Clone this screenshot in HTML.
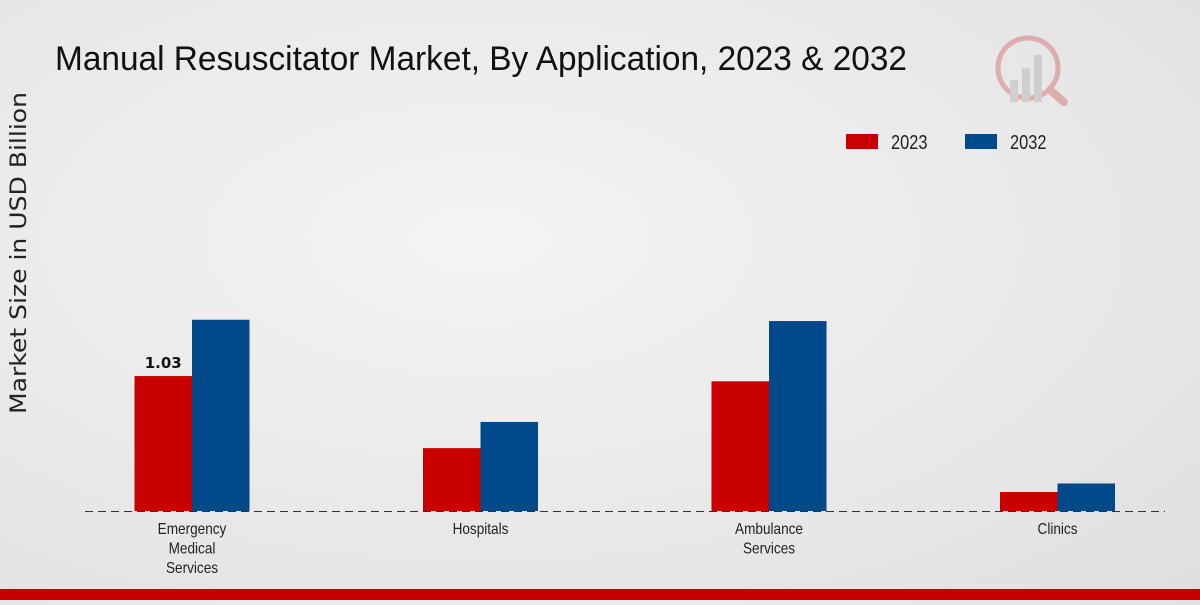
<!DOCTYPE html>
<html><head><meta charset="utf-8"><style>
html,body{margin:0;padding:0;}
body{width:1200px;height:600px;overflow:hidden;background:radial-gradient(ellipse at 40% 40%,#f4f4f4 0%,#e6e6e6 70%,#dedede 100%);font-family:"Liberation Sans",sans-serif;}
</style></head><body>
<svg width="1200" height="600" xmlns="http://www.w3.org/2000/svg">
<text x="55" y="70" font-size="34" fill="#111" textLength="852" lengthAdjust="spacingAndGlyphs" font-family="Liberation Sans, sans-serif">Manual Resuscitator Market, By Application, 2023 &amp; 2032</text>
<text transform="translate(26,253) rotate(-90)" text-anchor="middle" font-size="22" fill="#222" textLength="322" lengthAdjust="spacingAndGlyphs" font-family="DejaVu Sans, sans-serif">Market Size in USD Billion</text>
<g>
<rect x="846" y="134" width="32" height="15" fill="#c80000"/>
<text transform="translate(891,149) scale(0.82,1)" font-size="20" fill="#222">2023</text>
<rect x="965" y="134" width="32" height="15" fill="#004a8c"/>
<text transform="translate(1010,149) scale(0.82,1)" font-size="20" fill="#222">2032</text>
</g>
<g opacity="0.25">
<circle cx="1028" cy="68" r="30" fill="none" stroke="#c80000" stroke-width="5"/>
<rect x="1010" y="80" width="8" height="22" fill="#888"/><rect x="1022" y="68" width="8" height="34" fill="#888"/><rect x="1034" y="55" width="8" height="47" fill="#888"/>
<line x1="1050" y1="90" x2="1064" y2="102" stroke="#c80000" stroke-width="8" stroke-linecap="round"/>
</g>
<g id="bars"></g>
<line x1="85" y1="511.5" x2="1165" y2="511.5" stroke="#333" stroke-dasharray="8,5" stroke-width="1"/>
<g id="xlabels"></g>
<rect x="0" y="589" width="1200" height="11" fill="#c80000"/>
</svg>
<script>
const categories=[["Emergency","Medical","Services"],["Hospitals"],["Ambulance","Services"],["Clinics"]];
const values2023=[1.03,0.48,0.99,0.145];
const values2032=[1.46,0.68,1.45,0.21];
const shownLabels=["1.03",null,null,null];
const NS="http://www.w3.org/2000/svg";
const baseY=511, pxPerUnit=131, firstCenter=192, step=288.5, bw=57.5;
const yS=v=>baseY-v*pxPerUnit;
const xC=i=>firstCenter+i*step;
const bars=document.getElementById('bars'), xl=document.getElementById('xlabels');
categories.forEach((c,i)=>{
 [[values2023,'#c80000',-bw,'2023'],[values2032,'#004a8c',0,'2032']].forEach(([arr,col,off,yr])=>{
  const r=document.createElementNS(NS,'rect');
  r.setAttribute('x',xC(i)+off);r.setAttribute('y',yS(arr[i]));
  r.setAttribute('width',bw);r.setAttribute('height',baseY-yS(arr[i]));r.setAttribute('fill',col);
  
  
  bars.appendChild(r);
 });
 if(shownLabels[i]){
  const t=document.createElementNS(NS,'text');
  t.setAttribute('x',xC(i)-bw/2);t.setAttribute('y',yS(values2023[i])-8);
  t.setAttribute('text-anchor','middle');t.setAttribute('font-size','15');t.setAttribute('font-weight','bold');
  t.setAttribute('font-family','DejaVu Sans, sans-serif');t.setAttribute('fill','#111');
  t.textContent=shownLabels[i];
  
  
  bars.appendChild(t);
 }
 c.forEach((line,j)=>{
  const t=document.createElementNS(NS,'text');
  t.setAttribute('transform','translate('+xC(i)+','+(534+j*19.5)+') scale(0.85,1)');
  t.setAttribute('text-anchor','middle');t.setAttribute('font-size','16');t.setAttribute('fill','#222');
  t.textContent=line;
  
  
  xl.appendChild(t);
 });
});
</script>
</body></html>
